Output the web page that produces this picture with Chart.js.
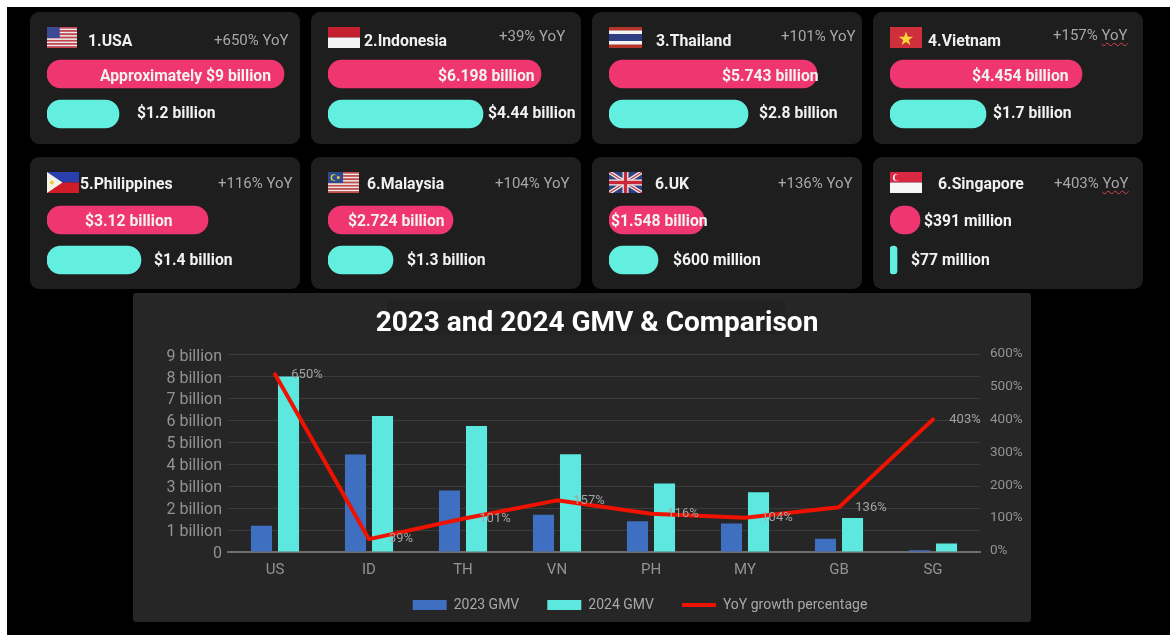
<!DOCTYPE html>
<html>
<head>
<meta charset="utf-8">
<style>
html,body{margin:0;padding:0;background:#fff;width:1170px;height:635px;overflow:hidden}
#stage{position:absolute;left:7px;top:7px;width:1163px;height:628px;background:#000;overflow:hidden}
#inner{position:absolute;left:-7px;top:-7px;width:1170px;height:635px;filter:blur(0.45px)}
.card,.panel,.titlebg,canvas.abs,svg.flag,.t{position:absolute}
.card{background:#1e1e1e;border-radius:9px}
.panel{left:133px;top:293px;width:898px;height:329px;background:#262626;border-radius:3px}
.titlebg{left:387px;top:300px;width:398px;height:35px;background:#222}
.t{font-family:Roboto,sans-serif;white-space:nowrap;line-height:20px;transform:translateY(-50%)}
.name{font-size:15.8px;font-weight:700;color:#f0f0f0}
.yoy{font-size:15px;font-weight:400;color:#a8a8a8}
.val{font-size:15.7px;font-weight:700;color:#f2f2f2}
.wavy{text-decoration:underline wavy #d9434f 1px;text-underline-offset:2px}
</style>
</head>
<body>
<div id="stage"><div id="inner"></div></div>
<script src="https://cdn.jsdelivr.net/npm/chart.js@4"></script>
<script>
// ---- card data ----
const cardCodes   = ['us','id','th','vn','ph','my','uk','sg'];
const cardNames   = ['1.USA','2.Indonesia','3.Thailand','4.Vietnam','5.Philippines','6.Malaysia','6.UK','6.Singapore'];
const cardYoY     = ['+650%','+39%','+101%','+157%','+116%','+104%','+136%','+403%'];
const labels2024  = ['Approximately $9 billion','$6.198 billion','$5.743 billion','$4.454 billion','$3.12 billion','$2.724 billion','$1.548 billion','$391 million'];
const labels2023  = ['$1.2 billion','$4.44 billion','$2.8 billion','$1.7 billion','$1.4 billion','$1.3 billion','$600 million','$77 million'];
// pill lengths (the pills are not to the GMV scale)
const pill2024    = [237,213,208,192,161,125,95,30];
const pill2023    = [72,155,139,96,94,65,49,7];
const pillAxisMax = 250;
const pillSeries  = ['2024','2023'];
// ---- main chart data ----
const countries   = ['US','ID','TH','VN','PH','MY','GB','SG'];
const gmv2023     = [1.2,4.44,2.8,1.7,1.4,1.3,0.6,0.077];
const gmv2024     = [8,6.198,5.743,4.454,3.12,2.724,1.548,0.391];
const yoyPlotted  = [540,39,101,157,116,104,136,403];
const yoyLabels   = ['650%','39%','101%','157%','116%','104%','136%','403%'];
const leftTicks   = ['0','1 billion','2 billion','3 billion','4 billion','5 billion','6 billion','7 billion','8 billion','9 billion'];

// ---- layout (not data) ----
const cardX = [30,311,592,873], cardY=[12,157], cardW=270, cardH=132;
const pillX = [47,328,609,890], pillCY=[93.5,239.5];
const flagBox = [[47,27,30,21],[328,27,32,21],[609,27,33,21],[890,27,32,21],[47,172,32,21],[328,172,31,21],[609,172,33,21],[890,172,32,21]];
const nameAt = [[88,40.5],[364,40.5],[656,40.5],[928,40.5],[80,183.5],[367,183.5],[655,183.5],[938,183.5]];
const yoyAt  = [[214,39.5],[499,35.5],[781,35.5],[1053,34.5],[218,182.5],[495,182.5],[778,182.5],[1054,182.5]];
const topAt  = [[100,75.5],[438,75.5],[722,75.5],[972,75.5],[85,220.5],[348,220.5],[611,220.5],[924,220.5]];
const botAt  = [[137,112.5],[488,112.5],[759,112.5],[993,112.5],[154,259.5],[407,259.5],[673,259.5],[911,259.5]];

const inner = document.getElementById('inner');
function text(cls,[x,y],html){const s=document.createElement('span');s.className='t '+cls;s.style.left=x+'px';s.style.top=y+'px';s.innerHTML=html;inner.appendChild(s);}
function stripes(n,a,b){let o='';for(let i=0;i<n;i++)o+=`<rect y="${i*21/n}" width="33" height="${21/n+.2}" fill="${i%2?b:a}"/>`;return o;}
const flags = {
 us: stripes(13,'#c8434f','#f4e9e9')+'<rect width="14" height="11" fill="#3d4a94"/>',
 id: '<rect width="33" height="10.5" fill="#c4202f"/><rect y="10.5" width="33" height="10.5" fill="#f4f4f4"/>',
 th: '<rect width="33" height="21" fill="#b5352b"/><rect y="3.5" width="33" height="14" fill="#f2f2f2"/><rect y="7" width="33" height="7" fill="#2d3f80"/>',
 vn: '<rect width="33" height="21" fill="#cf2f3c"/><polygon points="16.5,4.5 18.4,9.7 23.8,9.7 19.4,13 21,18 16.5,15 12,18 13.6,13 9.2,9.7 14.6,9.7" fill="#f7d736"/>',
 ph: '<rect width="33" height="10.5" fill="#2a3fae"/><rect y="10.5" width="33" height="10.5" fill="#d01c28"/><polygon points="0,0 16,10.5 0,21" fill="#f4f1e6"/><circle cx="5" cy="10.5" r="2" fill="#e9c93c"/>',
 my: stripes(13,'#cb4a4a','#f2e9e6')+'<rect width="16" height="11" fill="#2c4a8e"/><circle cx="6" cy="5.5" r="3.2" fill="#e7cf3d"/><circle cx="7" cy="5.5" r="2.6" fill="#2c4a8e"/><circle cx="11" cy="5.5" r="1.5" fill="#e7cf3d"/>',
 uk: '<rect width="33" height="21" fill="#2f3f7f"/><path d="M0 0L33 21M33 0L0 21" stroke="#eee" stroke-width="4"/><path d="M0 0L33 21M33 0L0 21" stroke="#c8434f" stroke-width="1.4"/><path d="M16.5 0V21M0 10.5H33" stroke="#eee" stroke-width="6"/><path d="M16.5 0V21M0 10.5H33" stroke="#c8283a" stroke-width="3.4"/>',
 sg: '<rect width="33" height="10.5" fill="#dc2743"/><rect y="10.5" width="33" height="10.5" fill="#f6f6f6"/><circle cx="6.5" cy="5.5" r="3.5" fill="#f6f6f6"/><circle cx="8" cy="5.5" r="3.2" fill="#dc2743"/>'
};

cardY.forEach(y=>cardX.forEach(x=>{const c=document.createElement('div');c.className='card';c.style.cssText=`left:${x}px;top:${y}px;width:${cardW}px;height:${cardH}px`;inner.appendChild(c);}));

const panel=document.createElement('div');panel.className='panel';inner.appendChild(panel);
const tb=document.createElement('div');tb.className='titlebg';inner.appendChild(tb);

cardCodes.forEach((code,i)=>{
  const [fx,fy,fw,fh]=flagBox[i];
  inner.insertAdjacentHTML('beforeend',`<svg class="flag" style="left:${fx}px;top:${fy}px" width="${fw}" height="${fh}" viewBox="0 0 33 21" preserveAspectRatio="none">${flags[code]}</svg>`);
  const cv=document.createElement('canvas');cv.className='abs';
  const H=80,W=pillAxisMax;
  cv.style.cssText=`left:${pillX[i%4]}px;top:${pillCY[i<4?0:1]-H/2}px;width:${W}px;height:${H}px`;
  cv.width=W;cv.height=H;inner.appendChild(cv);
  new Chart(cv,{type:'bar',data:{labels:pillSeries,datasets:[{data:[pill2024[i],pill2023[i]],
      backgroundColor:['#f03670','#62efe0'],barThickness:28,borderRadius:14,borderSkipped:false}]},
    options:{indexAxis:'y',responsive:false,animation:false,layout:{padding:0},
      plugins:{legend:{display:false},title:{display:false},tooltip:{enabled:false}},
      scales:{x:{display:false,min:0,max:pillAxisMax},y:{display:false}}}});
  text('name',nameAt[i],cardNames[i]);
  const wavy=(code==='vn'||code==='sg');
  text('yoy',yoyAt[i],cardYoY[i]+' '+(wavy?'<span class="wavy">YoY</span>':'YoY'));
  text('val',topAt[i],labels2024[i]);
  text('val',botAt[i],labels2023[i]);
});

// ---- main chart ----
const cv=document.createElement('canvas');cv.className='abs';
cv.style.cssText='left:133px;top:293px;width:898px;height:329px';cv.width=898;cv.height=329;inner.appendChild(cv);
const pointLabels={id:'pointLabels',
  afterLayout(chart){
    // x tick labels may use the room under the short axis box; title and legend sit off-centre in the reference
    chart.scales.x.bottom+=22;
    chart.titleBlock.left+=15;chart.titleBlock.right+=15;
    chart.legend.left+=58;chart.legend.right+=58;
  },
  afterDatasetsDraw(chart){
    const meta=chart.getDatasetMeta(2),ctx=chart.ctx;
    ctx.save();ctx.font='13px Roboto';ctx.fillStyle='#a2a2a2';ctx.textAlign='center';ctx.textBaseline='middle';
    meta.data.forEach((p,i)=>ctx.fillText(yoyLabels[i],p.x+32,p.y));
    ctx.restore();}};
const tickColor='#939393';
new Chart(cv,{
  data:{labels:countries,datasets:[
    {type:'bar',label:'2023 GMV',data:gmv2023,yAxisID:'y',backgroundColor:'#3f6fc1',categoryPercentage:.575,barPercentage:.78,order:2},
    {type:'bar',label:'2024 GMV',data:gmv2024,yAxisID:'y',backgroundColor:'#5ce8de',categoryPercentage:.575,barPercentage:.78,order:2},
    {type:'line',label:'YoY growth percentage',data:yoyPlotted,yAxisID:'y2',borderColor:'#f01200',backgroundColor:'#f01200',borderWidth:4,pointRadius:0,tension:0,order:1,borderCapStyle:'round',borderJoinStyle:'round'}
  ]},
  options:{responsive:false,animation:false,
    layout:{padding:{top:14,bottom:0,left:0,right:0}},
    plugins:{
      tooltip:{enabled:false},
      title:{display:true,text:'2023 and 2024 GMV & Comparison',color:'#ffffff',font:{family:'Roboto',size:28,weight:'700',lineHeight:1.2},padding:{top:0,bottom:14}},
      legend:{position:'bottom',labels:{usePointStyle:true,pointStyleWidth:34,boxHeight:10,padding:28,color:'#a8a8a8',font:{family:'Roboto',size:14},
        generateLabels(chart){return chart.data.datasets.map((d,i)=>({text:d.label,fontColor:'#a8a8a8',fillStyle:d.backgroundColor,strokeStyle:d.backgroundColor,lineWidth:d.type==='line'?4:0,pointStyle:d.type==='line'?'line':'rect',datasetIndex:i,hidden:false}));}}}
    },
    scales:{
      x:{offset:true,grid:{display:false,drawTicks:false},border:{color:'#6e6e6e',width:2},
         ticks:{color:tickColor,font:{family:'Roboto',size:15},padding:9,maxRotation:0},afterFit(s){s.height=18;}},
      y:{position:'left',min:0,max:9,afterFit(s){s.width=95;},afterBuildTicks(s){s.ticks=leftTicks.map((_,i)=>({value:i}));},
         grid:{color:'#3b3b3b',drawTicks:false,lineWidth:1},border:{display:false},
         ticks:{autoSkip:false,color:tickColor,font:{family:'Roboto',size:16},padding:6,labelOffset:2,callback:(v,i)=>leftTicks[i]}},
      y2:{position:'right',min:0,max:600,afterFit(s){s.width=51;},grid:{display:false,drawTicks:false},border:{display:false},
         ticks:{autoSkip:false,stepSize:100,color:tickColor,font:{family:'Roboto',size:13.5},padding:10,labelOffset:-1,callback:v=>v+'%'}}
    }
  },
  plugins:[pointLabels]
});
</script>
</body>
</html>
